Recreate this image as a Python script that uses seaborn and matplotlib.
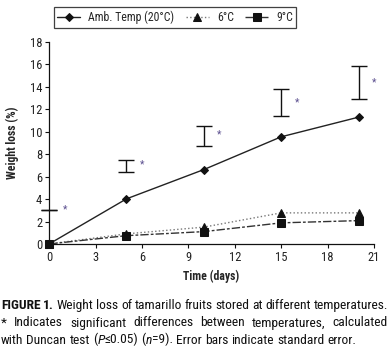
import numpy as np
import pandas as pd
import matplotlib
matplotlib.use("Agg")
import matplotlib.pyplot as plt
from matplotlib.font_manager import FontProperties
import seaborn as sns

# data
days = [0, 5, 10, 15, 20]
amb_20 = [0.0, 4.02, 6.63, 9.55, 11.3]
cold_6 = [0.0, 0.90, 1.50, 2.77, 2.77]
cold_9 = [0.0, 0.74, 1.10, 1.88, 2.08]

# error bars drawn apart from the curves
err_x = [0, 5, 10, 15, 20]
err_lo = [3.07, 6.43, 8.75, 11.37, 12.88]
err_hi = [3.07, 7.46, 10.50, 13.84, 15.89]

# significance asterisks
star_x = [1, 6, 11, 16, 21]
star_y = [3.07, 7.10, 9.80, 12.64, 14.43]

x_ticks = [0, 3, 6, 9, 12, 15, 18, 21]
y_ticks = [0, 2, 4, 6, 8, 10, 12, 14, 16, 18]

sns.set_style("ticks")
FAM = ["Roboto Condensed", "PT Sans Narrow", "DejaVu Sans"]
plt.rcParams["font.family"] = FAM

fig = plt.figure(figsize=(3.9, 3.5), dpi=100)
ax = fig.add_axes([0.126, 0.303, 0.833, 0.577])

series = [
    ("Amb. Temp (20°C)", amb_20, "D", "-", "#222222", 4),
    ("6°C", cold_6, "^", ":", "#777777", 6),
    ("9°C", cold_9, "s", (0, (6, 1.5, 2, 1.5)), "#333333", 6),
]
for label, vals, mk, ls, col, ms in series:
    df = pd.DataFrame({"day": days, "loss": vals})
    sns.lineplot(data=df, x="day", y="loss", ax=ax, marker=mk, markersize=ms,
                 color=col, linestyle=ls, linewidth=1.0, label=label,
                 markerfacecolor="#111111", markeredgecolor="#111111",
                 clip_on=False, zorder=3)

mid = (np.array(err_lo) + np.array(err_hi)) / 2
half = (np.array(err_hi) - np.array(err_lo)) / 2
ax.errorbar(err_x, mid, yerr=half, fmt="none", ecolor="#111111",
            elinewidth=1.0, capsize=5.5, capthick=1.0, clip_on=False)

for sx, sy in zip(star_x, star_y):
    ax.text(sx, sy, "*", color="#5b4f8f", fontsize=7.5, ha="center", va="center",
            clip_on=False)

ax.set_xlim(0, 21)
ax.set_ylim(0, 18)
ax.set_xticks(x_ticks)
ax.set_yticks(y_ticks)
ax.tick_params(labelsize=9, length=3, width=0.8, color="#111111", pad=2,
               labelcolor="#222222")
for s in ["left", "bottom"]:
    ax.spines[s].set_linewidth(0.9)
    ax.spines[s].set_color("#111111")
sns.despine(ax=ax)
ax.set_xlabel("Time (days)", fontsize=8.5, fontweight="bold", labelpad=4)
ax.set_ylabel("Weight loss (%)", fontsize=8.5, fontweight="bold", labelpad=8)

leg = ax.legend(loc="upper left", bbox_to_anchor=(48 / 390, 1 - 1.5 / 350),
                bbox_transform=fig.transFigure, ncol=3, frameon=True,
                fancybox=False, edgecolor="#111111", fontsize=8.5,
                handlelength=1.9, columnspacing=1.0, borderpad=0.3,
                handletextpad=0.7)
leg.get_frame().set_linewidth(0.9)

fig.canvas.draw()
rend = fig.canvas.get_renderer()


def width_px(s, fp):
    t = fig.text(0, 0, s, fontproperties=fp)
    w = t.get_window_extent(rend).width
    t.remove()
    return w


# caption size chosen so the first line fills the width
x0, x1 = 1, 388
probe = FontProperties(family=FAM, size=10)
first = "FIGURE 1. Weight loss of tamarillo fruits stored at different temperatures."
cap_size = 10 * (x1 - x0) / width_px(first, probe)

reg = FontProperties(family=FAM, size=cap_size)
bold = FontProperties(family=FAM, size=cap_size, weight="bold")
ital = FontProperties(family=FAM, size=cap_size, style="italic")

caption = [
    ([[("FIGURE", bold)], [("1.", bold)]] +
     [[(w, reg)] for w in "Weight loss of tamarillo fruits stored at different temperatures.".split()], True),
    ([[(w, reg)] for w in "* Indicates significant differences between temperatures, calculated".split()], True),
    ([[(w, reg)] for w in "with Duncan test".split()] +
     [[("(", reg), ("P", ital), ("≤0.05)", reg)], [("(", reg), ("n", ital), ("=9).", reg)]] +
     [[(w, reg)] for w in "Error bars indicate standard error.".split()], False),
]
baselines = [309, 326.5, 343.5]

space = width_px("a a", reg) - width_px("aa", reg)
for (words, justify), yy in zip(caption, baselines):
    wlens = [sum(width_px(s, fp) for s, fp in word) for word in words]
    gap = (x1 - x0 - sum(wlens)) / (len(words) - 1) if justify else space
    x = x0
    for word, wl in zip(words, wlens):
        cx = x
        for s, fp in word:
            fig.text(cx / 390, 1 - yy / 350, s, fontproperties=fp,
                     color="#111111", va="baseline", ha="left")
            cx += width_px(s, fp)
        x += wl + gap

fig.savefig("out.png", dpi=100)
